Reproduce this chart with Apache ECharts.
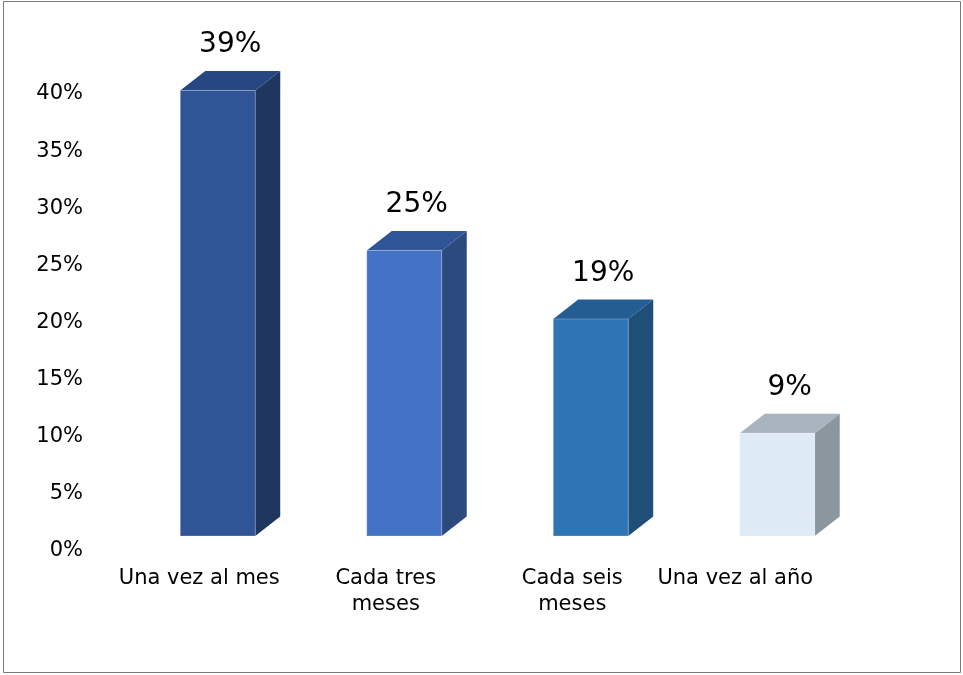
<!DOCTYPE html>
<html>
<head>
<meta charset="utf-8">
<title>Frecuencia</title>
<script src="https://cdn.jsdelivr.net/npm/echarts@6/dist/echarts.min.js"></script>
<style>
  html, body { margin: 0; padding: 0; background: #fff; }
  #chart { width: 963px; height: 675px; }
</style>
</head>
<body>
<div id="chart"></div>
<script>
// Categories and their percentages
const categories = ['Una vez al mes', 'Cada tres\nmeses', 'Cada seis\nmeses', 'Una vez al año'];
const values = [39, 25, 19, 9];

// Y axis ticks (percent)
const yMin = 0;
const yMax = 40;
const yStep = 5;

// Face colours for each bar: front, top, side
const frontColors = ['#2F5597', '#4472C4', '#2E75B6', '#DEEBF7'];
const topColors   = ['#264782', '#2F5597', '#245D92', '#A9B4BF'];
const sideColors  = ['#1F375F', '#2D4A7E', '#1F4E79', '#8C969F'];

// 3D box geometry (pixels)
const FRONT_RATIO = 0.402;   // front face width relative to category band
const FRONT_SHIFT_X = -19;   // front face left edge relative to category centre
const FRONT_SHIFT_Y = -15;   // front plane sits slightly above the axis floor
const DEPTH_X = 25;
const DEPTH_Y = -19.5;

const FONT = '"DejaVu Sans", "Liberation Sans", Arial, sans-serif';

function renderBox(params, api) {
  const idx = params.dataIndex;
  const cat = api.value(0);
  const v = api.value(1);
  const topPt = api.coord([cat, v]);
  const basePt = api.coord([cat, 0]);
  const band = api.size([1, 0])[0];
  const w = band * FRONT_RATIO;
  const x0 = topPt[0] + FRONT_SHIFT_X;
  const x1 = x0 + w;
  const yT = topPt[1] + FRONT_SHIFT_Y;
  const yB = basePt[1] + FRONT_SHIFT_Y;
  return {
    type: 'group',
    children: [
      {
        type: 'polygon',
        shape: { points: [[x1, yB], [x1 + DEPTH_X, yB + DEPTH_Y], [x1 + DEPTH_X, yT + DEPTH_Y], [x1, yT]] },
        style: { fill: sideColors[idx] }
      },
      {
        type: 'polygon',
        shape: { points: [[x0, yT], [x0 + DEPTH_X, yT + DEPTH_Y], [x1 + DEPTH_X, yT + DEPTH_Y], [x1, yT]] },
        style: { fill: topColors[idx] }
      },
      {
        type: 'rect',
        shape: { x: x0, y: yT, width: w, height: yB - yT },
        style: { fill: frontColors[idx], stroke: 'rgba(255,255,255,0.25)', lineWidth: 1 }
      },
      {
        type: 'text',
        style: {
          text: v + '%',
          x: (x0 + x1 + DEPTH_X) / 2,
          y: yT + DEPTH_Y - 26,
          align: 'center',
          verticalAlign: 'middle',
          fontFamily: FONT,
          fontSize: 28,
          fill: '#000'
        }
      }
    ]
  };
}

const chart = echarts.init(document.getElementById('chart'));
chart.setOption({
  backgroundColor: '#fff',
  animation: false,
  graphic: [{
    type: 'rect',
    shape: { x: 3.5, y: 1.5, width: 957, height: 671 },
    style: { fill: 'none', stroke: '#7a7a7a', lineWidth: 1 },
    silent: true
  }],
  grid: { left: 106, right: 111, top: 94, bottom: 124 },
  xAxis: {
    type: 'category',
    data: categories,
    axisLine: { show: false },
    axisTick: { show: false },
    splitLine: { show: false },
    axisLabel: {
      interval: 0,
      margin: 15,
      fontFamily: FONT,
      fontSize: 21,
      lineHeight: 26,
      color: '#000',
      formatter: function (val, i) {
        // the last label is nudged left to stay clear of the frame edge
        return i === categories.length - 1 ? '{last|' + val + '}' : val;
      },
      rich: {
        last: {
          fontFamily: FONT,
          fontSize: 21,
          lineHeight: 26,
          color: '#000',
          padding: [0, 47, 0, 0]
        }
      }
    }
  },
  yAxis: {
    type: 'value',
    min: yMin,
    max: yMax,
    interval: yStep,
    axisLine: { show: false },
    axisTick: { show: false },
    splitLine: { show: false },
    axisLabel: {
      margin: 23,
      fontFamily: FONT,
      fontSize: 21,
      color: '#000',
      formatter: '{value}%'
    }
  },
  series: [{
    type: 'custom',
    renderItem: renderBox,
    encode: { x: 0, y: 1 },
    data: values.map((v, i) => [i, v]),
    clip: false
  }]
});
</script>
</body>
</html>
